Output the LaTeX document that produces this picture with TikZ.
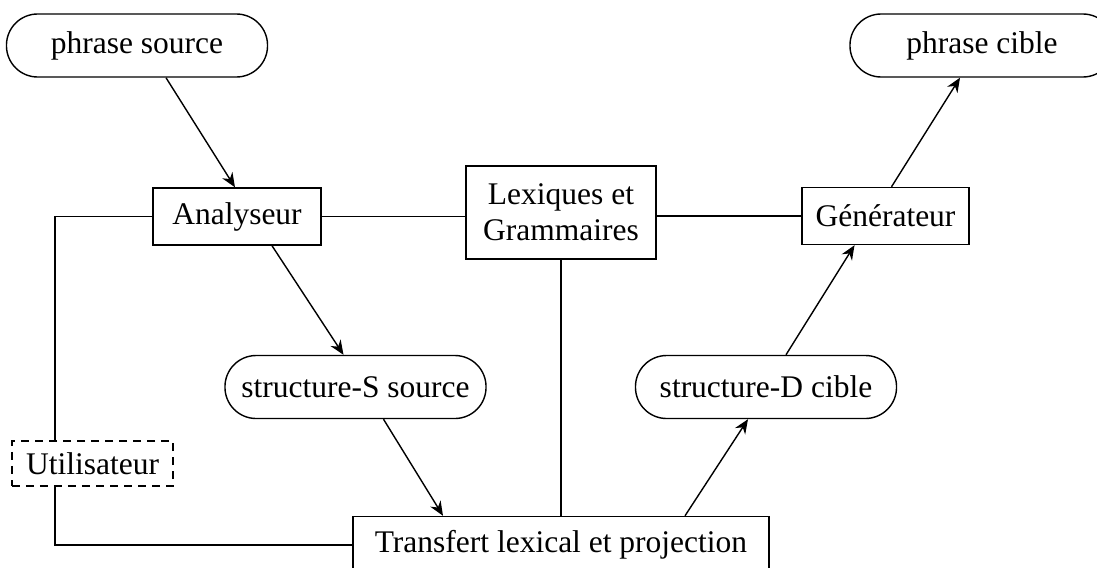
\documentclass[tikz,border=0pt]{standalone}
\usepackage{fontspec}
\setmainfont{Liberation Serif}
\usetikzlibrary{arrows.meta}

\begin{document}
\begin{tikzpicture}[x=0.025cm,y=-0.025cm,line width=1pt,
box/.style ={rectangle, draw, align=center, inner sep=2pt,
  font=\fontsize{22.4}{25.6}\selectfont,
  minimum height=1.425cm
},
pill/.style ={rectangle, draw, rounded corners=0.78cm, inner sep=2pt,
  font=\fontsize{22.4}{25.6}\selectfont,
  minimum width=6.525cm, minimum height=1.575cm
},
user/.style ={box, dash pattern=on 0.2cm off 0.15cm,
  minimum height=1.125cm
},
flow/.style ={-{Stealth[length=0.36cm,width=0.3cm]}}]
\useasboundingbox (0,0) rectangle (1097,567);
\node (ps) at (137,45.5) [pill] {phrase source};
\node (pc) at (982,45.5) [pill, minimum width=6.6cm] {phrase cible};
\node (ana) at (237,216.5) [box, minimum width=4.2cm] {Analyseur};
\node (lex) at (561,212.5) [box, minimum width=4.75cm, minimum height=2.325cm] {Lexiques et\\Grammaires};
\node (gen) at (885.5,216) [box, minimum width=4.175cm] {Générateur};
\node (ss) at (355.5,387) [pill] {structure-S source};
\node (sd) at (766,387) [pill] {structure-D cible};
\node (ut) at (92.5,463.5) [user, minimum width=4.025cm] {Utilisateur};
\node (tr) at (561,545) [box, minimum width=10.4cm] {Transfert lexical et projection};
\coordinate (ul) at (55,216.5);
% liens
\draw (ana.east) -- (ana.east -| lex.west);
\draw (lex.east |- gen.west) -- (gen.west);
\draw (lex.south) -- (tr.north);
\draw (ana.west) -- (ul) -- (ul |- ut.north);
\draw (ut.south -| ul) |- (tr.west);
% flux
\draw[flow] ([shift={(29,0)}]ps.south) -- ([shift={(-2,0)}]ana.north);
\draw[flow] ([shift={(35,0)}]ana.south) -- ([shift={(-12,0)}]ss.north);
\draw[flow] ([shift={(28,0)}]ss.south) -- ([shift={(-118,0)}]tr.north);
\draw[flow] ([shift={(124,0)}]tr.north) -- ([shift={(-18,0)}]sd.south);
\draw[flow] ([shift={(20,0)}]sd.north) -- ([shift={(-31,0)}]gen.south);
\draw[flow] ([shift={(6,0)}]gen.north) -- ([shift={(-22,0)}]pc.south);
\end{tikzpicture}
\end{document}
